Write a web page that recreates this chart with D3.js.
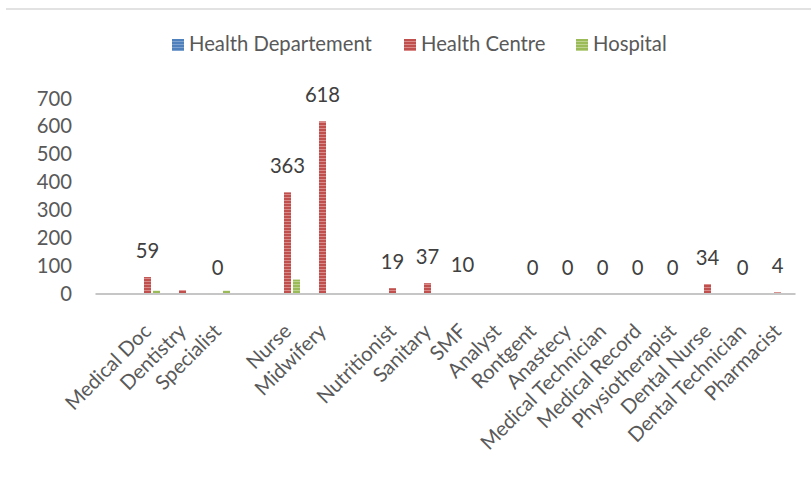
<!DOCTYPE html>
<html><head><meta charset="utf-8">
<script src="https://cdn.jsdelivr.net/npm/d3@7"></script>
<style>
html,body{margin:0;padding:0;background:#fff;}
svg{display:block;}
</style></head>
<body>
<svg id="chart" width="811" height="481"></svg>
<script>
// ---- data ----
const categories = ["", "Medical Doc", "Dentistry", "Specialist", " ", "Nurse", "Midwifery", "  ",
  "Nutritionist", "Sanitary", "SMF", "Analyst", "Rontgent", "Anastecy", "Medical Technician",
  "Medical Record", "Physiotherapist", "Dental Nurse", "Dental Technician", "Pharmacist"];
const seriesNames = ["Health Departement", "Health Centre", "Hospital"];
const healthDepartement = [0,0,0,0,0,0,0,0,0,0,0,0,0,0,0,0,0,0,0,0];
const healthCentre      = [0,59,12,0,0,363,618,0,19,37,0,0,0,0,0,0,0,34,0,4];
const hospital          = [0,10,0,10,0,50,0,0,0,0,0,0,0,0,0,0,0,0,0,0];
const dataLabels        = [null,59,null,0,null,363,618,null,19,37,10,null,0,0,0,0,0,34,0,4];
const yTicks = [0,100,200,300,400,500,600,700];
const seriesColors = ["#4F81BD", "#C0504D", "#9BBB59"];
const stripeColors = ["#7FA3D1", "#DA8B89", "#BDD38F"];

const svg = d3.select("#chart");
const FONT = "Lato, 'Open Sans', sans-serif";

// fit font size to reference width of legend text
const probe = svg.append("text").attr("font-family", FONT).attr("font-size", 20).text("Health Departement");
const w20 = probe.node().getComputedTextLength();
probe.remove();
const fs = 20 * 183 / w20;

const defs = svg.append("defs");
seriesColors.forEach((c, i) => {
  const p = defs.append("pattern").attr("id", "pat" + i).attr("patternUnits", "userSpaceOnUse")
    .attr("width", 4).attr("height", 3);
  p.append("rect").attr("width", 4).attr("height", 3).attr("fill", c);
  p.append("rect").attr("y", 2).attr("width", 4).attr("height", 1).attr("fill", stripeColors[i]);
});

// top border line
svg.append("line").attr("x1", 6).attr("x2", 811).attr("y1", 9).attr("y2", 9)
  .attr("stroke", "#e2e2e2").attr("stroke-width", 2);

const x0 = d3.scaleBand().domain(d3.range(categories.length)).range([95, 795]).paddingInner(0).paddingOuter(0);
const y = d3.scaleLinear().domain([0, 700]).range([293.5, 98.5]);
const x1 = d3.scaleBand().domain(d3.range(3)).range([-12.5, 12.5]).paddingInner(0.22);

// y axis labels
const yAxis = d3.axisLeft(y).tickValues(yTicks).tickSize(0).tickPadding(0);
const ya = svg.append("g").attr("transform", "translate(72,0)").call(yAxis);
ya.select(".domain").remove();
ya.selectAll("text").attr("font-family", FONT).attr("font-size", fs).attr("fill", "#595959");

// bars
const allSeries = [healthDepartement, healthCentre, hospital];
const cat = svg.append("g").selectAll("g").data(categories).join("g")
  .attr("transform", (d, i) => `translate(${x0(i) + x0.bandwidth() / 2},0)`);
cat.selectAll("rect").data((d, i) => allSeries.map((s, k) => ({k, v: s[i]}))).join("rect")
  .attr("x", d => x1(d.k)).attr("width", x1.bandwidth())
  .attr("y", d => y(d.v)).attr("height", d => y(0) - y(d.v))
  .attr("fill", d => `url(#pat${d.k})`);

// x axis line
const xAxis = d3.axisBottom(x0).tickSize(0).tickFormat("");
const xa = svg.append("g").attr("transform", `translate(0,${y(0)})`).call(xAxis);
xa.select(".domain").attr("stroke", "#c6c6c6").attr("stroke-width", 2);

// category labels
svg.append("g").selectAll("text").data(categories).join("text")
  .attr("transform", (d, i) => `translate(${x0(i) + x0.bandwidth() / 2 + 5},${y(0) + 39}) rotate(-45)`)
  .attr("text-anchor", "end").attr("font-family", FONT).attr("font-size", fs).attr("fill", "#595959")
  .text(d => d.trim());

// data labels
svg.append("g").selectAll("text").data(dataLabels.map((v, i) => ({v, i})).filter(d => d.v !== null)).join("text")
  .attr("x", d => x0(d.i) + x0.bandwidth() / 2).attr("y", d => y(d.v) - 19)
  .attr("text-anchor", "middle").attr("font-family", FONT).attr("font-size", fs).attr("fill", "#404040")
  .text(d => d.v);

// legend
const legendX = [172, 404, 576];
const lg = svg.append("g").selectAll("g").data(seriesNames).join("g")
  .attr("transform", (d, i) => `translate(${legendX[i]},39)`);
lg.append("rect").attr("width", 12).attr("height", 12).attr("fill", (d, i) => `url(#pat${i})`);
lg.append("text").attr("x", 17).attr("y", 12).attr("font-family", FONT).attr("font-size", fs)
  .attr("fill", "#595959").text(d => d);
</script>
</body></html>
